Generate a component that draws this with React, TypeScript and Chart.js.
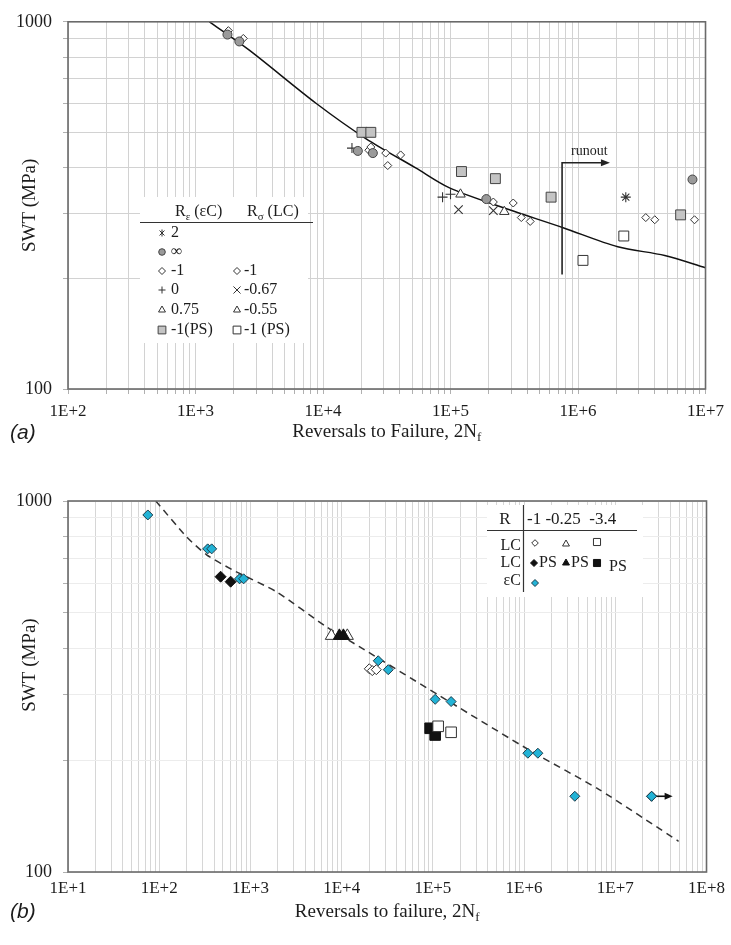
import React, { useEffect, useRef } from 'react';
import { Chart, registerables } from 'chart.js';

Chart.register(...registerables);

const SERIF = '"Liberation Serif", "Times New Roman", serif';
const SANS = '"Liberation Sans", Arial, sans-serif';
const INK = '#1c1c1c';

// ---------------- Panel (a) ----------------
const aXMinExp = 2;
const aXMaxExp = 7;
const aXTickLabels = ['1E+2', '1E+3', '1E+4', '1E+5', '1E+6', '1E+7'];
const aYTickLabels = ['100', '1000'];

const aCurveN = [1285, 2641, 8810, 21660, 53300, 96400, 237000, 764000, 2050000, 4790000, 10000000];
const aCurveS = [1000, 837, 600, 481, 400, 354, 315, 275, 244, 231, 214];

const aR2N = [2370000];
const aR2S = [333];
const aInfN = [1780, 2207, 18750, 24600, 191000, 7900000];
const aInfS = [923, 884, 445, 439, 329, 372];
const aDiaN = [1811, 2371, 22860, 23714, 31050, 40640, 32200, 216800, 310500, 359000, 421700, 3400000, 4000000, 8200000];
const aDiaS = [946, 901, 447, 456, 439, 434, 406, 323, 321, 293, 286, 293, 289, 289];
const aZeroN = [16870, 86600, 100000];
const aZeroS = [453, 333, 339];
const aLc067N = [115500, 216800];
const aLc067S = [308, 306];
const aTriN = [119800, 264000];
const aTriS = [339, 304];
const aPsEpsN = [20200, 23714, 121900, 224900, 615000, 6380000];
const aPsEpsS = [500, 500, 391, 374, 333, 298];
const aPsLcN = [1094000, 2286000];
const aPsLcS = [224, 261];

const aRunoutN = 750000;
const aRunoutTopS = 413;
const aRunoutBottomS = 205;
const aRunoutEndN = 1780000;
const aRunoutLabel = 'runout';

// ---------------- Panel (b) ----------------
const bXMinExp = 1;
const bXMaxExp = 8;
const bXTickLabels = ['1E+1', '1E+2', '1E+3', '1E+4', '1E+5', '1E+6', '1E+7', '1E+8'];
const bYTickLabels = ['100', '1000'];

const bCurveN = [91.7, 200, 331, 638, 1932, 6807, 15630, 150700, 1220000, 6600000, 49400000];
const bCurveS = [1000, 800, 716, 652, 569, 458, 405, 288, 211, 167, 121];

const bEpsN = [75, 340, 376, 760, 842, 25180, 32430, 106000, 158500, 1100000, 1416000, 3600000, 25000000];
const bEpsS = [917, 743, 743, 617, 617, 371, 351, 292, 288, 209, 209, 160, 160];
const bLcDiaN = [20090, 21660, 23980];
const bLcDiaS = [353, 349, 351];
const bPsDiaN = [471, 607];
const bPsDiaS = [625, 606];
const bLcTriN = [7710, 11540];
const bLcTriS = [433, 433];
const bPsTriN = [9440, 10450];
const bPsTriS = [433, 433];
const bLcSqN = [114300, 158500];
const bLcSqS = [247, 238];
const bPsSqN = [93300, 106000];
const bPsSqS = [244, 234];

const bRunoutN = [25000000, 42500000];
const bRunoutS = 160;

const CYAN = '#22b3d6';

// ---------------- helpers ----------------
const pts = (n: number[], s: number[]) => n.map((x, i) => ({ x, y: s[i] }));

function logGrid(lo: number, hi: number) {
  const v: number[] = [];
  for (let e = lo; e < hi; e++) for (let m = 1; m < 10; m++) v.push(m * Math.pow(10, e));
  v.push(Math.pow(10, hi));
  return v;
}

function decadeLabel(val: number, minExp: number, labels: string[]) {
  const e = Math.log10(val);
  const r = Math.round(e);
  return Math.abs(e - r) < 1e-6 ? labels[r - minExp] ?? '' : '';
}

function mk(label: string, n: number[], s: number[], style: string, r: number, bg: string, border: string, bw = 1) {
  return {
    label,
    data: pts(n, s),
    pointStyle: style,
    pointRadius: r,
    pointHoverRadius: r,
    pointBackgroundColor: bg,
    pointBorderColor: border,
    pointBorderWidth: bw,
    showLine: false,
  };
}

function drawMarker(ctx: CanvasRenderingContext2D, style: string, x: number, y: number, r: number, fill: string | null, stroke: string, lw = 1) {
  ctx.save();
  ctx.beginPath();
  ctx.lineWidth = lw;
  ctx.strokeStyle = stroke;
  let closed = true;
  const d = r * Math.SQRT1_2;
  switch (style) {
    case 'circle':
      ctx.arc(x, y, r, 0, Math.PI * 2);
      break;
    case 'rectRot':
      ctx.moveTo(x, y - r); ctx.lineTo(x + r, y); ctx.lineTo(x, y + r); ctx.lineTo(x - r, y); ctx.closePath();
      break;
    case 'rect':
      ctx.rect(x - d, y - d, 2 * d, 2 * d);
      break;
    case 'triangle':
      ctx.moveTo(x, y - r); ctx.lineTo(x + r * 0.866, y + r * 0.5); ctx.lineTo(x - r * 0.866, y + r * 0.5); ctx.closePath();
      break;
    case 'cross':
      closed = false;
      ctx.moveTo(x - r, y); ctx.lineTo(x + r, y); ctx.moveTo(x, y - r); ctx.lineTo(x, y + r);
      break;
    case 'crossRot':
      closed = false;
      ctx.moveTo(x - d, y - d); ctx.lineTo(x + d, y + d); ctx.moveTo(x + d, y - d); ctx.lineTo(x - d, y + d);
      break;
    case 'star':
      closed = false;
      ctx.moveTo(x - d, y - d); ctx.lineTo(x + d, y + d); ctx.moveTo(x + d, y - d); ctx.lineTo(x - d, y + d);
      ctx.moveTo(x, y - r); ctx.lineTo(x, y + r);
      break;
  }
  if (closed && fill) { ctx.fillStyle = fill; ctx.fill(); }
  ctx.stroke();
  ctx.restore();
}

type Part = [string, boolean?];
function drawRich(ctx: CanvasRenderingContext2D, x: number, y: number, parts: Part[], size: number, align = 'left', family = SERIF) {
  ctx.save();
  ctx.textBaseline = 'middle';
  ctx.textAlign = 'left';
  ctx.fillStyle = INK;
  let total = 0;
  for (const p of parts) {
    ctx.font = `${p[1] ? Math.round(size * 0.68) : size}px ${family}`;
    total += ctx.measureText(p[0]).width;
  }
  let cx = align === 'center' ? x - total / 2 : align === 'right' ? x - total : x;
  for (const p of parts) {
    ctx.font = `${p[1] ? Math.round(size * 0.68) : size}px ${family}`;
    ctx.fillText(p[0], cx, p[1] ? y + size * 0.3 : y);
    cx += ctx.measureText(p[0]).width;
  }
  ctx.restore();
}

function arrowHead(ctx: CanvasRenderingContext2D, x: number, y: number, len = 9, half = 3.5) {
  ctx.beginPath();
  ctx.moveTo(x, y);
  ctx.lineTo(x - len, y - half);
  ctx.lineTo(x - len, y + half);
  ctx.closePath();
  ctx.fill();
}

function yTitle(ctx: CanvasRenderingContext2D, x: number, y: number) {
  ctx.save();
  ctx.translate(x, y);
  ctx.rotate(-Math.PI / 2);
  ctx.font = `19px ${SERIF}`;
  ctx.fillStyle = INK;
  ctx.textAlign = 'center';
  ctx.textBaseline = 'middle';
  ctx.fillText('SWT (MPa)', 0, 0);
  ctx.restore();
}

function panelLabel(ctx: CanvasRenderingContext2D, text: string, x: number, y: number) {
  ctx.save();
  ctx.font = `italic 21px ${SANS}`;
  ctx.fillStyle = INK;
  ctx.textBaseline = 'middle';
  ctx.textAlign = 'left';
  ctx.fillText(text, x, y);
  ctx.restore();
}

function frame(chart: any) {
  const { ctx, chartArea: a } = chart;
  ctx.save();
  ctx.strokeStyle = '#6a6a6a';
  ctx.lineWidth = 1.6;
  ctx.strokeRect(a.left, a.top, a.right - a.left, a.bottom - a.top);
  ctx.restore();
}

function scales(minExp: number, maxExp: number, xLabels: string[], yLabels: string[], xHeight: number, xPad: number, xTickLen: number, gridX: string, gridY: string) {
  const xt = logGrid(minExp, maxExp);
  const yt = logGrid(2, 3);
  return {
    x: {
      type: 'logarithmic',
      min: Math.pow(10, minExp),
      max: Math.pow(10, maxExp),
      afterBuildTicks: (s: any) => { s.ticks = xt.map((v) => ({ value: v })); },
      afterFit: (s: any) => { s.height = xHeight; },
      border: { display: false },
      grid: { color: gridX, lineWidth: 1, drawTicks: xTickLen > 0, tickLength: xTickLen, tickColor: '#b0b0b0' },
      ticks: {
        autoSkip: false,
        maxRotation: 0,
        minRotation: 0,
        padding: xPad,
        color: INK,
        font: { family: SERIF, size: 17 },
        callback: (v: any) => decadeLabel(Number(v), minExp, xLabels),
      },
    },
    y: {
      type: 'logarithmic',
      min: 100,
      max: 1000,
      afterBuildTicks: (s: any) => { s.ticks = yt.map((v) => ({ value: v })); },
      afterFit: (s: any) => { s.width = 68; },
      border: { display: false },
      grid: { color: gridY, lineWidth: 1, drawTicks: true, tickLength: 5, tickColor: '#b0b0b0' },
      ticks: {
        autoSkip: false,
        padding: 11,
        color: INK,
        font: { family: SERIF, size: 18 },
        callback: (v: any) => decadeLabel(Number(v), 2, yLabels),
      },
    },
  };
}

// ---------------- Panel (a) config ----------------
function configA(): any {
  const plugin = {
    id: 'panelA',
    beforeDatasetsDraw(chart: any) {
      const { ctx } = chart;
      ctx.save();
      ctx.fillStyle = '#ffffff';
      ctx.fillRect(140, 197, 168, 146);
      ctx.restore();
    },
    afterDraw(chart: any) {
      const { ctx, chartArea: a } = chart;
      const xs = chart.scales.x;
      const ys = chart.scales.y;
      frame(chart);

      // runout annotation
      const rx = xs.getPixelForValue(aRunoutN);
      const ry0 = ys.getPixelForValue(aRunoutTopS);
      const ry1 = ys.getPixelForValue(aRunoutBottomS);
      const rx1 = xs.getPixelForValue(aRunoutEndN);
      ctx.save();
      ctx.strokeStyle = '#222';
      ctx.fillStyle = '#222';
      ctx.lineWidth = 1.6;
      ctx.beginPath();
      ctx.moveTo(rx, ry1);
      ctx.lineTo(rx, ry0);
      ctx.lineTo(rx1 - 6, ry0);
      ctx.stroke();
      arrowHead(ctx, rx1, ry0, 9, 3.5);
      ctx.font = `14px ${SERIF}`;
      ctx.textBaseline = 'middle';
      ctx.fillStyle = INK;
      ctx.fillText(aRunoutLabel, rx + 9, ry0 - 11);
      ctx.restore();

      // legend
      const fs = 16;
      drawRich(ctx, 175, 212, [['R'], ['ε', true], [' (εC)']], fs);
      drawRich(ctx, 247, 212, [['R'], ['σ', true], [' (LC)']], fs);
      ctx.save();
      ctx.strokeStyle = '#333';
      ctx.lineWidth = 1.2;
      ctx.beginPath();
      ctx.moveTo(140, 222.5);
      ctx.lineTo(313, 222.5);
      ctx.stroke();
      ctx.restore();
      const rows = [233, 252, 271, 290, 310, 330];
      const lm = 162, lt = 171, rm = 237, rt = 244;
      drawMarker(ctx, 'star', lm, rows[0], 3.5, null, '#333', 1);
      drawRich(ctx, lt, rows[0], [['2']], fs);
      drawMarker(ctx, 'circle', lm, rows[1], 3.3, '#9a9a9a', '#444', 1);
      drawRich(ctx, lt, rows[1], [['∞']], fs);
      drawMarker(ctx, 'rectRot', lm, rows[2], 3.5, '#fff', '#333', 1);
      drawRich(ctx, lt, rows[2], [['-1']], fs);
      drawMarker(ctx, 'rectRot', rm, rows[2], 3.5, '#fff', '#333', 1);
      drawRich(ctx, rt, rows[2], [['-1']], fs);
      drawMarker(ctx, 'cross', lm, rows[3], 3.5, null, '#333', 1);
      drawRich(ctx, lt, rows[3], [['0']], fs);
      drawMarker(ctx, 'crossRot', rm, rows[3], 5, null, '#333', 1);
      drawRich(ctx, rt, rows[3], [['-0.67']], fs);
      drawMarker(ctx, 'triangle', lm, rows[4], 4, '#fff', '#333', 1);
      drawRich(ctx, lt, rows[4], [['0.75']], fs);
      drawMarker(ctx, 'triangle', rm, rows[4], 4, '#fff', '#333', 1);
      drawRich(ctx, rt, rows[4], [['-0.55']], fs);
      drawMarker(ctx, 'rect', lm, rows[5], 5.5, '#c4c4c4', '#444', 1);
      drawRich(ctx, lt, rows[5], [['-1(PS)']], fs);
      drawMarker(ctx, 'rect', rm, rows[5], 5.5, '#fff', '#333', 1);
      drawRich(ctx, rt, rows[5], [['-1 (PS)']], fs);

      // titles
      yTitle(ctx, 30, (a.top + a.bottom) / 2);
      drawRich(ctx, (a.left + a.right) / 2, 432, [['Reversals to Failure, 2N'], ['f', true]], 19, 'center');
      panelLabel(ctx, '(a)', 10, 433);
    },
  };

  return {
    type: 'scatter',
    data: {
      datasets: [
        mk('R=2', aR2N, aR2S, 'star', 5, '#fff', '#333', 1.1),
        mk('R=∞', aInfN, aInfS, 'circle', 4.5, '#9a9a9a', '#444', 1),
        mk('R=-1', aDiaN, aDiaS, 'rectRot', 4, '#fff', '#333', 1),
        mk('R=0', aZeroN, aZeroS, 'cross', 5, '#fff', '#333', 1.1),
        mk('LC -0.67', aLc067N, aLc067S, 'crossRot', 6, '#fff', '#333', 1.1),
        mk('0.75 / -0.55', aTriN, aTriS, 'triangle', 5.5, '#fff', '#333', 1),
        mk('-1(PS) εC', aPsEpsN, aPsEpsS, 'rect', 7, '#c4c4c4', '#444', 1),
        mk('-1(PS) LC', aPsLcN, aPsLcS, 'rect', 7, '#fff', '#333', 1),
        {
          label: 'fit',
          data: pts(aCurveN, aCurveS),
          showLine: true,
          pointRadius: 0,
          borderColor: '#111',
          borderWidth: 1.5,
          fill: false,
          tension: 0.3,
        },
      ],
    },
    options: {
      animation: false,
      responsive: false,
      devicePixelRatio: 1,
      events: [],
      layout: { padding: { top: 14, right: 23, left: 0, bottom: 0 } },
      plugins: { legend: { display: false }, tooltip: { enabled: false } },
      scales: scales(aXMinExp, aXMaxExp, aXTickLabels, aYTickLabels, 450 - 14 - 375, 7, 5, '#d2d2d2', '#d2d2d2'),
    },
    plugins: [plugin],
  };
}

// ---------------- Panel (b) config ----------------
function configB(): any {
  const plugin = {
    id: 'panelB',
    beforeDatasetsDraw(chart: any) {
      const { ctx } = chart;
      ctx.save();
      ctx.fillStyle = '#ffffff';
      ctx.fillRect(487, 50, 156, 92);
      ctx.restore();
    },
    afterDraw(chart: any) {
      const { ctx, chartArea: a } = chart;
      const xs = chart.scales.x;
      const ys = chart.scales.y;
      frame(chart);

      // runout arrow
      const x0 = xs.getPixelForValue(bRunoutN[0]);
      const x1 = xs.getPixelForValue(bRunoutN[1]);
      const y = ys.getPixelForValue(bRunoutS);
      ctx.save();
      ctx.strokeStyle = '#111';
      ctx.fillStyle = '#111';
      ctx.lineWidth = 1.6;
      ctx.beginPath();
      ctx.moveTo(x0 + 4, y);
      ctx.lineTo(x1 - 6, y);
      ctx.stroke();
      arrowHead(ctx, x1, y, 8, 3.5);
      ctx.restore();
      drawMarker(ctx, 'rectRot', x0, y, 5, CYAN, '#1d3c4a', 1);

      // legend
      const fs = 17;
      drawRich(ctx, 505, 65, [['R']], fs, 'center');
      drawRich(ctx, 527, 65, [['-1 -0.25  -3.4']], fs);
      ctx.save();
      ctx.strokeStyle = '#333';
      ctx.lineWidth = 1.2;
      ctx.beginPath();
      ctx.moveTo(487, 75.5);
      ctx.lineTo(637, 75.5);
      ctx.moveTo(523.5, 50);
      ctx.lineTo(523.5, 137);
      ctx.stroke();
      ctx.restore();
      const r1 = 91, r2 = 108, r3 = 126;
      drawRich(ctx, 521, r1, [['LC']], 16, 'right');
      drawRich(ctx, 521, r2, [['LC']], 16, 'right');
      drawRich(ctx, 521, r3, [['εC']], 16, 'right');
      drawMarker(ctx, 'rectRot', 535, r1 - 3, 3.3, '#fff', '#333', 1);
      drawMarker(ctx, 'triangle', 566, r1 - 2, 4, '#fff', '#333', 1);
      drawMarker(ctx, 'rect', 597, r1 - 4, 5, '#fff', '#333', 1);
      drawMarker(ctx, 'rectRot', 534, r2, 3.5, '#111', '#111', 1);
      drawRich(ctx, 539, r2, [['PS']], 16);
      drawMarker(ctx, 'triangle', 566, r2, 4, '#111', '#111', 1);
      drawRich(ctx, 571, r2, [['PS']], 16);
      drawMarker(ctx, 'rect', 597, r2, 5, '#111', '#111', 1);
      drawRich(ctx, 609, r2 + 4, [['PS']], 16);
      drawMarker(ctx, 'rectRot', 535, r3 + 2, 3.5, CYAN, '#1d3c4a', 1);

      // titles
      yTitle(ctx, 30, 665 - 455);
      drawRich(ctx, (a.left + a.right) / 2, 912 - 455, [['Reversals to failure, 2N'], ['f', true]], 19, 'center');
      panelLabel(ctx, '(b)', 10, 912 - 455);
    },
  };

  return {
    type: 'scatter',
    data: {
      datasets: [
        mk('εC', bEpsN, bEpsS, 'rectRot', 5, CYAN, '#1d3c4a', 1),
        mk('LC -1 PS', bPsDiaN, bPsDiaS, 'rectRot', 5.5, '#111', '#111', 1),
        mk('LC -1', bLcDiaN, bLcDiaS, 'rectRot', 5, '#fff', '#333', 1),
        mk('LC -0.25 PS', bPsTriN, bPsTriS, 'triangle', 7, '#111', '#111', 1),
        mk('LC -0.25', bLcTriN, bLcTriS, 'triangle', 7, '#fff', '#333', 1),
        mk('LC -3.4', bLcSqN, bLcSqS, 'rect', 7.5, '#fff', '#333', 1),
        mk('LC -3.4 PS', bPsSqN, bPsSqS, 'rect', 7.5, '#111', '#111', 1),
        {
          label: 'fit',
          data: pts(bCurveN, bCurveS),
          showLine: true,
          pointRadius: 0,
          borderColor: '#333',
          borderWidth: 1.5,
          borderDash: [7, 5],
          fill: false,
          tension: 0.2,
        },
      ],
    },
    options: {
      animation: false,
      responsive: false,
      devicePixelRatio: 1,
      events: [],
      layout: { padding: { top: 46, right: 23, left: 0, bottom: 0 } },
      plugins: { legend: { display: false }, tooltip: { enabled: false } },
      scales: scales(bXMinExp, bXMaxExp, bXTickLabels, bYTickLabels, 490 - 46 - 371, 6, 0, '#d6d6d6', '#ececec'),
    },
    plugins: [plugin],
  };
}

export default function App() {
  const refA = useRef<HTMLCanvasElement>(null);
  const refB = useRef<HTMLCanvasElement>(null);

  useEffect(() => {
    const a = new Chart(refA.current as HTMLCanvasElement, configA());
    const b = new Chart(refB.current as HTMLCanvasElement, configB());
    return () => {
      a.destroy();
      b.destroy();
    };
  }, []);

  return (
    <div style={{ position: 'absolute', left: 0, top: 0, width: 731, height: 945, background: '#ffffff', overflow: 'hidden' }}>
      <canvas ref={refA} width={731} height={450} style={{ position: 'absolute', left: 0, top: 0, width: 731, height: 450 }} />
      <canvas ref={refB} width={731} height={490} style={{ position: 'absolute', left: 0, top: 455, width: 731, height: 490 }} />
    </div>
  );
}
